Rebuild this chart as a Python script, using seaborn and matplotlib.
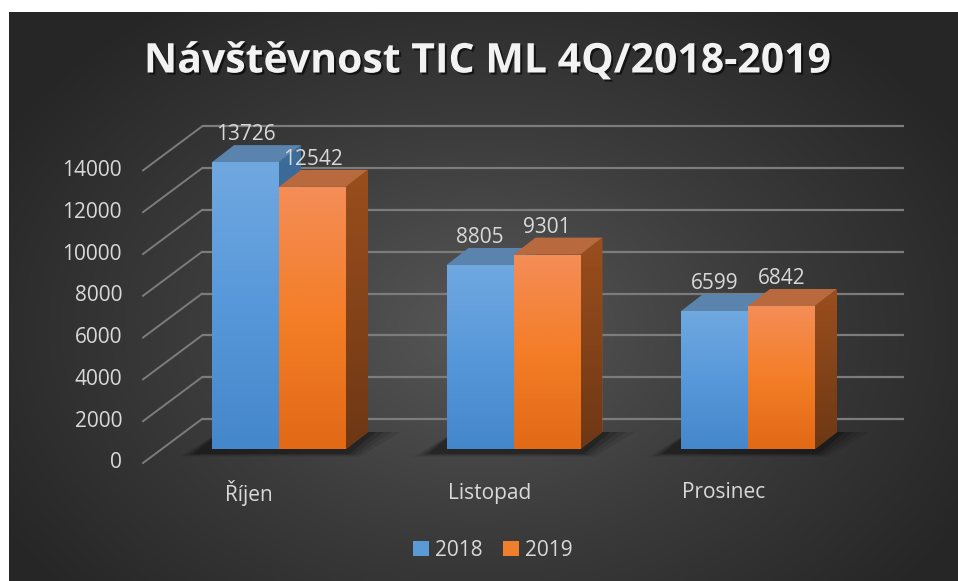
import numpy as np
import matplotlib
matplotlib.use("Agg")
import matplotlib.pyplot as plt
import matplotlib.patheffects as pe
from matplotlib.patches import Polygon, Patch
from matplotlib.colors import LinearSegmentedColormap
import pandas as pd
import seaborn as sns

# Data
months = ["Říjen", "Listopad", "Prosinec"]
years = ["2018", "2019"]
visits_2018 = [13726, 8805, 6599]
visits_2019 = [12542, 9301, 6842]
y_ticks = [0, 2000, 4000, 6000, 8000, 10000, 12000, 14000]
title = "Návštěvnost TIC ML 4Q/2018-2019"

df = pd.DataFrame({
    "month": months * 2,
    "year": [years[0]] * 3 + [years[1]] * 3,
    "visits": visits_2018 + visits_2019,
})

plt.rcParams['font.family'] = ['Open Sans', 'DejaVu Sans']
txt = "#d9d9d9"

W, H = 958, 581
fig = plt.figure(figsize=(W / 100, H / 100), dpi=100)
fig.patch.set_facecolor("white")

# background with a radial gradient
bg = fig.add_axes([9 / W, 0, (W - 9) / W, (H - 12) / H])
bg.axis("off")
gx, gy = np.meshgrid(np.linspace(9, W, 400), np.linspace(12, H, 260))
r = np.sqrt(((gx - 480) / 560) ** 2 + ((gy - 330) / 400) ** 2)
r = np.clip(r, 0, 1)
bg_cmap = LinearSegmentedColormap.from_list("bg", ["#575757", "#3c3c3c", "#262626"])
bg.imshow(r, cmap=bg_cmap, aspect="auto", extent=[0, 1, 0, 1], origin="upper", vmin=0, vmax=1)
bg.set_xlim(0, 1)
bg.set_ylim(0, 1)

# main axes covering the figure, pixel scale known
ax = fig.add_axes([0, 0, 1, 1])
ax.patch.set_alpha(0)
SX = 234.5   # px per category
SY = 0.0209  # px per visit
X0, Y0 = 279, 449  # pixel of category 0 centre / value 0 (front of bars)


def dx(px):
    return px / SX


def dy(px):
    return px / SY


blue, orange = "#5b9bd5", "#f07f2d"
sns.barplot(data=df, x="month", y="visits", hue="year", palette=[blue, orange],
            width=0.571, ax=ax, legend=False, saturation=1, linewidth=0)

grads = {
    0: LinearSegmentedColormap.from_list("b", ["#4587cb", "#5798da", "#70a8e0"]),
    1: LinearSegmentedColormap.from_list("o", ["#e26916", "#f47e28", "#f48d57"]),
}
side_col = {0: "#3e6d9c", 1: "#9a4e1d"}
top_col = {0: "#5a84ae", 1: "#b8693e"}

ddx, ddy = dx(22), dy(17)
bars = list(ax.patches)
for p in bars:
    x0, w, h = p.get_x(), p.get_width(), p.get_height()
    j = 0 if np.allclose(p.get_facecolor()[:3], matplotlib.colors.to_rgb(blue)) else 1
    zf = 3 + 3 * j
    p.set_zorder(zf)
    # side and top faces
    side = Polygon([(x0 + w, 0), (x0 + w + ddx, ddy), (x0 + w + ddx, h + ddy), (x0 + w, h)],
                   closed=True, facecolor=side_col[j], edgecolor="none", zorder=zf - 1)
    top = Polygon([(x0, h), (x0 + ddx, h + ddy), (x0 + w + ddx, h + ddy), (x0 + w, h)],
                  closed=True, facecolor=top_col[j], edgecolor="none", zorder=zf - 1)
    ax.add_patch(side)
    ax.add_patch(top)
    # gradient on side
    sg = ax.imshow(np.linspace(0, 1, 50).reshape(-1, 1),
                   cmap=LinearSegmentedColormap.from_list("s", [side_col[j], "#000000"]),
                   vmin=0, vmax=3.5, aspect="auto", origin="lower",
                   extent=[x0 + w, x0 + w + ddx, h + ddy, 0], zorder=zf - 1)
    sg.set_clip_path(side)
    # gradient on front
    im = ax.imshow(np.linspace(0, 1, 100).reshape(-1, 1), cmap=grads[j], aspect="auto",
                   origin="lower", extent=[x0, x0 + w, 0, h], zorder=zf)
    im.set_clip_path(p)
    # value label
    ax.text(x0 + w / 2, h + ddy, f"{int(round(h))}", ha="center", va="bottom",
            fontsize=15, color=txt, zorder=20)

# soft shadows on the floor
for i in range(len(months)):
    left = i - 0.2855
    right = i + 0.2855
    for k, a in enumerate([0.08, 0.10, 0.14, 0.20]):
        e = 0.05 * (4 - k)
        sh = Polygon([(left - dx(14) - e * 0.4, -dy(4) - dy(3) * (4 - k) * 0.3),
                      (right + e * 0.3, -dy(4) - dy(3) * (4 - k) * 0.3),
                      (right + ddx + dx(18) * (4 - k) / 4 + e * 0.3, ddy),
                      (left + ddx - dx(14), ddy)],
                     closed=True, facecolor="black", edgecolor="none", alpha=a, zorder=1)
        ax.add_patch(sh)

# back wall gridlines and diagonal lines to the front axis
back_dy = dy(30)
front_dy = dy(14)
bx0, bx1 = dx(202 - X0), dx(904 - X0)
fx = dx(143 - X0)
for v in y_ticks:
    ax.plot([bx0, bx1], [v + back_dy] * 2, color="#7c7c7c", lw=1.6, zorder=0.5,
            solid_capstyle="butt")
    ax.plot([fx, bx0], [v - front_dy, v + back_dy], color="#7c7c7c", lw=1.4, zorder=0.5)
    ax.text(dx(122 - X0), v - front_dy, f"{v}", ha="right", va="center",
            fontsize=15, color=txt)

# category labels
for i, m in enumerate(months):
    ax.text(i - dx(24) - (dx(6) if i == 0 else 0), -dy(44), m, ha="center", va="center",
            fontsize=15, color=txt)

ax.set_xlim(-X0 / SX, (W - X0) / SX)
ax.set_ylim(-(H - Y0) / SY, Y0 / SY)
ax.axis("off")

# title
fig.text(488 / W, 1 - 62 / H, title, ha="center", va="center", fontsize=29.5,
         fontweight="bold", color="#f2f2f2",
         path_effects=[pe.withSimplePatchShadow(offset=(1.5, -1.5), shadow_rgbFace="black", alpha=0.6)])

# legend
handles = [Patch(facecolor=blue, edgecolor="none"), Patch(facecolor=orange, edgecolor="none")]
leg = fig.legend(handles, years, loc="center", bbox_to_anchor=(493 / W, 1 - 550 / H),
                 ncol=2, frameon=False, fontsize=15, handlelength=0.75, handleheight=0.75,
                 handletextpad=0.3, columnspacing=1.0, labelcolor=txt)

fig.savefig("out.png", dpi=100)
